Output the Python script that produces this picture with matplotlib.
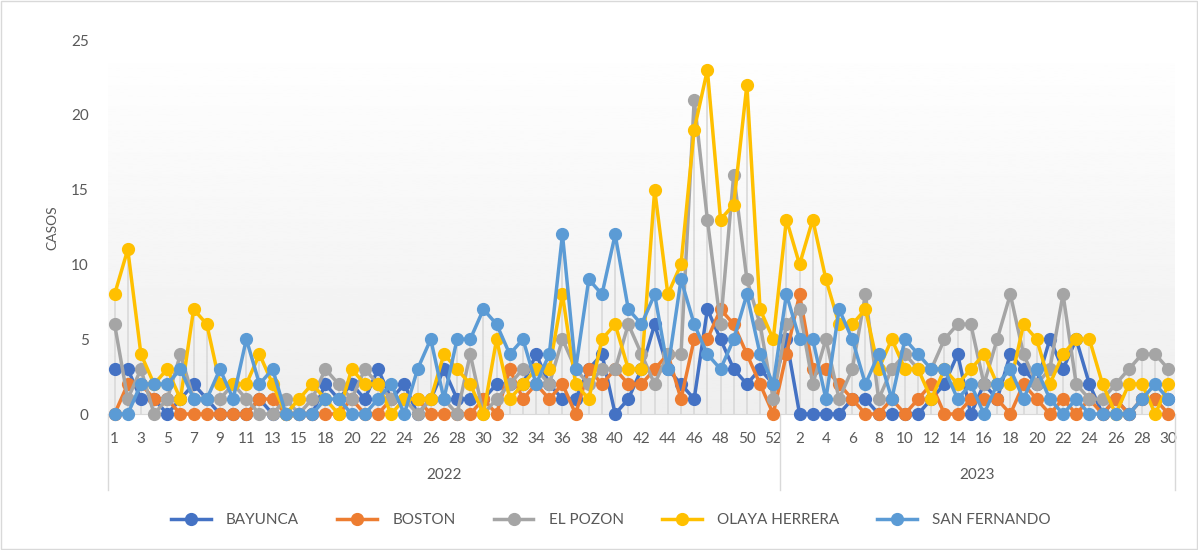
import matplotlib.pyplot as plt
import numpy as np
from matplotlib.patches import Rectangle

plt.rcParams['font.family'] = ['Lato', 'DejaVu Sans']

# Categories: epidemiological weeks (week 16 of 2022 missing in the source)
weeks_2022 = list(range(1, 16)) + [17] + list(range(18, 53))
weeks_2023 = list(range(1, 31))
years = ['2022', '2023']

# Cases per week (2022 then 2023)
bayunca = [3, 3, 1, 1, 0, 1, 2, 1, 0, 0, 0, 1, 0, 0, 0, 0, 2, 1, 2, 1,
           3, 1, 2, 0, 1, 3, 1, 1, 1, 2, 2, 2, 4, 2, 1, 1, 3, 4, 0, 1,
           3, 6, 3, 2, 1, 7, 5, 3, 2, 3, 2,
           5, 0, 0, 0, 0, 1, 1, 0, 0, 0, 0, 1, 2, 4, 0, 2, 1, 4, 3, 2,
           5, 3, 5, 2, 0, 1, 0, 1, 1, 1]
boston = [0, 2, 2, 1, 1, 0, 0, 0, 0, 0, 0, 1, 1, 0, 0, 0, 0, 0, 1, 0,
          0, 1, 1, 1, 0, 0, 0, 0, 1, 0, 3, 1, 2, 1, 2, 0, 3, 2, 3, 2,
          2, 3, 4, 1, 5, 5, 7, 6, 4, 2, 0,
          4, 8, 3, 3, 2, 1, 0, 0, 1, 0, 1, 2, 0, 0, 1, 1, 1, 0, 2, 1,
          0, 1, 0, 1, 0, 1, 0, 1, 1, 0]
el_pozon = [6, 1, 3, 0, 1, 4, 1, 1, 1, 2, 1, 0, 0, 1, 0, 1, 3, 2, 1, 3,
            2, 1, 1, 0, 1, 1, 0, 4, 0, 1, 2, 3, 3, 2, 5, 3, 2, 3, 3, 6,
            4, 2, 4, 4, 21, 13, 6, 16, 9, 6, 1,
            6, 7, 2, 5, 1, 3, 8, 1, 3, 4, 3, 3, 5, 6, 6, 2, 5, 8, 4, 2,
            3, 8, 2, 1, 1, 2, 3, 4, 4, 3]
olaya_herrera = [8, 11, 4, 2, 3, 1, 7, 6, 2, 2, 2, 4, 2, 0, 1, 2, 1, 0, 3, 2,
                 2, 0, 1, 1, 1, 4, 3, 2, 0, 5, 1, 2, 3, 3, 8, 2, 1, 5, 6, 3,
                 3, 15, 8, 10, 19, 23, 13, 14, 22, 7, 5,
                 13, 10, 13, 9, 6, 6, 7, 3, 5, 3, 3, 1, 3, 2, 3, 4, 2, 2, 6, 5,
                 2, 4, 5, 5, 2, 0, 2, 2, 0, 2]
san_fernando = [0, 0, 2, 2, 2, 3, 1, 1, 3, 1, 5, 2, 3, 0, 0, 0, 1, 1, 0, 0,
                1, 2, 0, 3, 5, 1, 5, 5, 7, 6, 4, 5, 2, 4, 12, 3, 9, 8, 12, 7,
                6, 8, 3, 9, 6, 4, 3, 5, 8, 4, 2,
                8, 5, 5, 1, 7, 5, 2, 4, 1, 5, 4, 3, 3, 1, 2, 0, 2, 3, 1, 3,
                1, 0, 1, 0, 0, 0, 0, 1, 2, 1]

series = [('BAYUNCA', bayunca, '#4472C4'),
          ('BOSTON', boston, '#ED7D31'),
          ('EL POZON', el_pozon, '#A5A5A5'),
          ('OLAYA HERRERA', olaya_herrera, '#FFC000'),
          ('SAN FERNANDO', san_fernando, '#5B9BD5')]

W, H = 1198, 550
fig = plt.figure(figsize=(W / 100, H / 100), dpi=100)
pos = [108 / W, 1 - 414 / H, (1175 - 108) / W, (414 - 40) / H]

# plot area gradient background
bg = fig.add_axes(pos, zorder=0)
grad = np.linspace(1.0, 0.935, 256).reshape(-1, 1)
bg.imshow(grad, cmap='gray', vmin=0, vmax=1, aspect='auto', extent=[0, 1, 0, 1])
bg.axis('off')

ax = fig.add_axes(pos, zorder=1)
ax.set_facecolor('none')

labels = [str(w) for w in weeks_2022] + [str(w) for w in weeks_2023]
x = np.arange(len(labels))
n22 = len(weeks_2022)

# drop lines
top = np.max([s[1] for s in series], axis=0)
ax.vlines(x, 0, top, color='#d9d9d9', lw=1.2, zorder=1)

for name, vals, col in series:
    ax.plot(x, vals, color=col, lw=2.5, marker='o', ms=8.5, label=name,
            clip_on=False, zorder=3)

ax.set_xlim(-0.5, len(labels) - 0.5)
ax.set_ylim(0, 25)
for s in ax.spines.values():
    s.set_visible(False)
ax.spines['bottom'].set_visible(True)
ax.spines['bottom'].set_color('#d9d9d9')

ax.set_yticks(range(0, 26, 5))
ax.tick_params(axis='y', length=0, pad=14, labelsize=11, labelcolor='#595959')
ax.set_xticks(x[::2])
ax.set_xticklabels(labels[::2])
ax.tick_params(axis='x', length=0, pad=13, labelsize=11, labelcolor='#595959')

# multi-level category axis: year group separators and labels
trans = ax.get_xaxis_transform()
for xs in [-0.5, n22 - 0.5, len(labels) - 0.5]:
    ax.plot([xs, xs], [0, -0.203], color='#d9d9d9', lw=1, transform=trans,
            clip_on=False)
ax.text((n22 - 1) / 2, -0.163, years[0], transform=trans, ha='center',
        va='center', fontsize=11, color='#595959')
ax.text(n22 + (len(weeks_2023) - 1) / 2, -0.163, years[1], transform=trans,
        ha='center', va='center', fontsize=11, color='#595959')

fig.text(52 / W, 1 - 228 / H, 'CASOS', rotation=90, ha='center', va='center',
         fontsize=10, color='#595959')

fig.legend(loc='center', bbox_to_anchor=(0.51, 1 - 520 / H), ncol=5,
           frameon=False, fontsize=11, handlelength=2.6, handletextpad=1.0,
           columnspacing=2.5, labelcolor='#595959')

fig.patches.append(Rectangle((0.0005, 0.001), 0.999, 0.998, transform=fig.transFigure,
                             fill=False, edgecolor='#d9d9d9', lw=1))

fig.savefig('out.png', dpi=100)
